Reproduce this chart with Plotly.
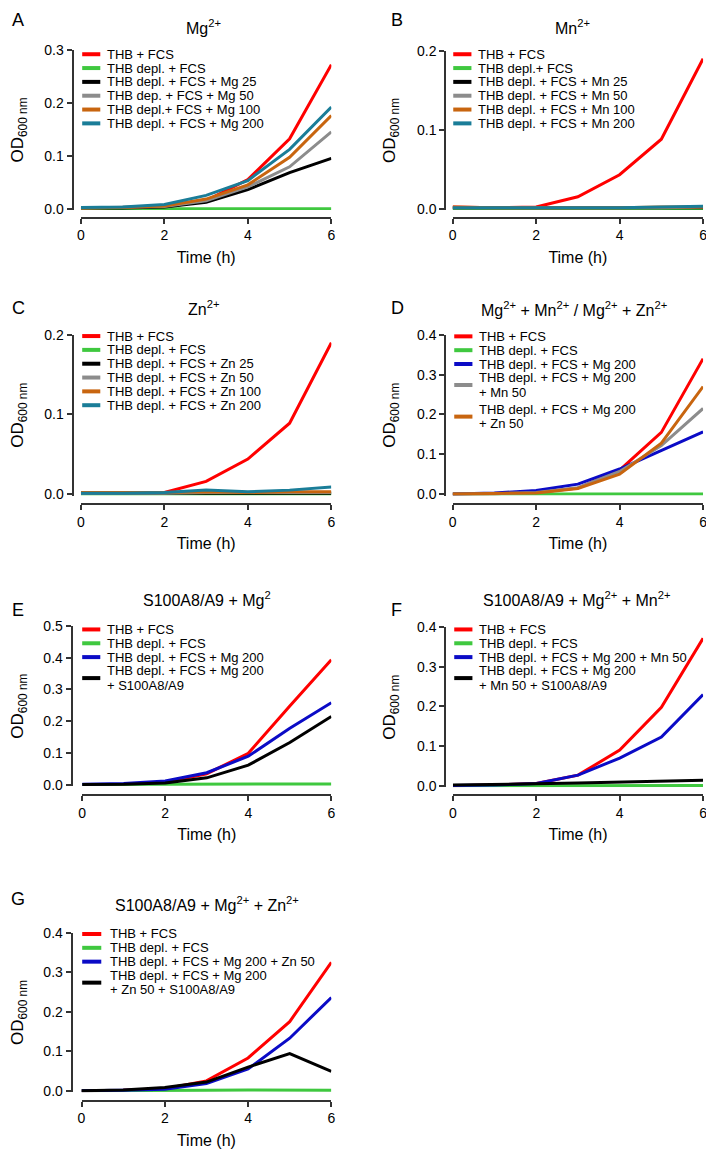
import plotly.graph_objects as go

W, H = 714, 1159
OFF = 8  # page body margin offsets the figure by 8 px
FW, FH = W - OFF, H - OFF
FONT = "Liberation Sans, Arial, Helvetica, sans-serif"

hours = [0, 1, 2, 3, 4, 5, 6]

# ---------------- colours ----------------
RED = "#ff0000"
GREEN = "#3fc83f"
BLACK = "#000000"
GRAY = "#8c8c8c"
ORANGE = "#c8650f"
TEAL = "#1a7d98"
BLUE = "#0b0bc6"

# ---------------- data (OD600) ----------------
# Panel A : Mg2+
a_thb = [0.001, 0.001, 0.003, 0.015, 0.055, 0.132, 0.272]
a_depl = [0.000, 0.000, 0.000, 0.000, 0.000, 0.000, 0.000]
a_mg25 = [0.001, 0.001, 0.003, 0.012, 0.036, 0.068, 0.095]
a_mg50 = [0.001, 0.002, 0.004, 0.015, 0.041, 0.079, 0.145]
a_mg100 = [0.001, 0.002, 0.005, 0.018, 0.045, 0.097, 0.176]
a_mg200 = [0.002, 0.003, 0.008, 0.025, 0.053, 0.112, 0.192]
a_labels = ["THB + FCS", "THB depl. + FCS", "THB depl. + FCS + Mg 25",
            "THB dep. + FCS + Mg 50", "THB depl.+ FCS + Mg 100",
            "THB depl. + FCS + Mg 200"]

# Panel B : Mn2+
b_thb = [0.002, 0.001, 0.002, 0.015, 0.043, 0.088, 0.190]
b_depl = [0.000, 0.000, 0.000, 0.000, 0.000, 0.000, 0.000]
b_mn25 = [0.001, 0.001, 0.001, 0.001, 0.001, 0.001, 0.001]
b_mn50 = [0.001, 0.001, 0.001, 0.001, 0.001, 0.001, 0.002]
b_mn100 = [0.002, 0.001, 0.001, 0.001, 0.001, 0.002, 0.002]
b_mn200 = [0.001, 0.001, 0.001, 0.001, 0.001, 0.002, 0.003]
b_labels = ["THB + FCS", "THB depl.+ FCS", "THB depl. + FCS + Mn 25",
            "THB depl. + FCS + Mn 50", "THB depl. + FCS + Mn 100",
            "THB depl. + FCS + Mn 200"]

# Panel C : Zn2+
c_thb = [0.001, 0.001, 0.002, 0.016, 0.044, 0.089, 0.190]
c_depl = [0.000, 0.000, 0.000, 0.000, 0.000, 0.000, 0.000]
c_zn25 = [0.001, 0.001, 0.001, 0.001, 0.001, 0.001, 0.001]
c_zn50 = [0.001, 0.001, 0.001, 0.002, 0.002, 0.002, 0.002]
c_zn100 = [0.002, 0.002, 0.002, 0.003, 0.002, 0.003, 0.003]
c_zn200 = [0.001, 0.001, 0.002, 0.005, 0.003, 0.005, 0.009]
c_labels = ["THB + FCS", "THB depl. + FCS", "THB depl. + FCS + Zn 25",
            "THB depl. + FCS + Zn 50", "THB depl. + FCS + Zn 100",
            "THB depl. + FCS + Zn 200"]

# Panel D : Mg2+ + Mn2+ / Mg2+ + Zn2+
d_thb = [0.000, 0.001, 0.004, 0.015, 0.060, 0.155, 0.340]
d_depl = [0.000, 0.000, 0.000, 0.000, 0.000, 0.000, 0.000]
d_mg200 = [0.000, 0.003, 0.009, 0.025, 0.063, 0.109, 0.156]
d_mg200_mn50 = [0.000, 0.001, 0.004, 0.016, 0.057, 0.122, 0.215]
d_mg200_zn50 = [0.000, 0.001, 0.003, 0.014, 0.050, 0.128, 0.270]
d_labels = ["THB + FCS", "THB depl. + FCS", "THB depl. + FCS + Mg 200",
            "THB depl. + FCS + Mg 200<br>+ Mn 50",
            "THB depl. + FCS + Mg 200<br>+ Zn 50"]

# Panel E : S100A8/A9 + Mg2+
e_thb = [0.001, 0.002, 0.008, 0.035, 0.099, 0.248, 0.393]
e_depl = [0.001, 0.001, 0.001, 0.001, 0.001, 0.002, 0.003]
e_mg200 = [0.002, 0.004, 0.012, 0.038, 0.090, 0.178, 0.258]
e_mg200_s100 = [0.001, 0.002, 0.006, 0.022, 0.062, 0.133, 0.215]
e_labels = ["THB + FCS", "THB depl. + FCS", "THB depl. + FCS + Mg 200",
            "THB depl. + FCS + Mg 200<br>+ S100A8/A9"]

# Panel F : S100A8/A9 + Mg2+ + Mn2+
f_thb = [0.000, 0.002, 0.006, 0.027, 0.090, 0.198, 0.372]
f_depl = [0.000, 0.000, 0.000, 0.000, 0.000, 0.001, 0.001]
f_mg_mn = [0.001, 0.002, 0.006, 0.027, 0.070, 0.123, 0.230]
f_mg_mn_s100 = [0.002, 0.003, 0.005, 0.007, 0.009, 0.012, 0.014]
f_labels = ["THB + FCS", "THB depl. + FCS", "THB depl. + FCS + Mg 200 + Mn 50",
            "THB depl. + FCS + Mg 200<br>+ Mn 50 + S100A8/A9"]

# Panel G : S100A8/A9 + Mg2+ + Zn2+
g_thb = [0.000, 0.001, 0.005, 0.025, 0.083, 0.175, 0.325]
g_depl = [0.000, 0.000, 0.001, 0.001, 0.002, 0.001, 0.001]
g_mg_zn = [0.000, 0.001, 0.004, 0.018, 0.055, 0.133, 0.236]
g_mg_zn_s100 = [0.000, 0.002, 0.008, 0.022, 0.060, 0.094, 0.049]
g_labels = ["THB + FCS", "THB depl. + FCS", "THB depl. + FCS + Mg 200 + Zn 50",
            "THB depl. + FCS + Mg 200<br>+ Zn 50 + S100A8/A9"]

six_colors = [RED, GREEN, BLACK, GRAY, ORANGE, TEAL]

panels = [
    dict(letter="A", title="Mg<sup>2+</sup>", ymax=0.3,
         labels=a_labels, colors=six_colors,
         values=[a_thb, a_depl, a_mg25, a_mg50, a_mg100, a_mg200]),
    dict(letter="B", title="Mn<sup>2+</sup>", ymax=0.2,
         labels=b_labels, colors=six_colors,
         values=[b_thb, b_depl, b_mn25, b_mn50, b_mn100, b_mn200]),
    dict(letter="C", title="Zn<sup>2+</sup>", ymax=0.2,
         labels=c_labels, colors=six_colors,
         values=[c_thb, c_depl, c_zn25, c_zn50, c_zn100, c_zn200]),
    dict(letter="D", title="Mg<sup>2+</sup> + Mn<sup>2+</sup> / Mg<sup>2+</sup> + Zn<sup>2+</sup>",
         ymax=0.4, labels=d_labels, colors=[RED, GREEN, BLUE, GRAY, ORANGE],
         values=[d_thb, d_depl, d_mg200, d_mg200_mn50, d_mg200_zn50]),
    dict(letter="E", title="S100A8/A9 + Mg<sup>2</sup>", ymax=0.5,
         labels=e_labels, colors=[RED, GREEN, BLUE, BLACK],
         values=[e_thb, e_depl, e_mg200, e_mg200_s100]),
    dict(letter="F", title="S100A8/A9 + Mg<sup>2+</sup> + Mn<sup>2+</sup>", ymax=0.4,
         labels=f_labels, colors=[RED, GREEN, BLUE, BLACK],
         values=[f_thb, f_depl, f_mg_mn, f_mg_mn_s100]),
    dict(letter="G", title="S100A8/A9 + Mg<sup>2+</sup> + Zn<sup>2+</sup>", ymax=0.4,
         labels=g_labels, colors=[RED, GREEN, BLUE, BLACK],
         values=[g_thb, g_depl, g_mg_zn, g_mg_zn_s100]),
]

# ---------------- geometry (page pixels) ----------------
# x0/x6: pixel of time 0/6; yx: y-axis line x; yb/yt: pixel of y=0 / y=max;
# xy: x-axis line y; title, letter: centres; leg: (key x0, key x1, text x, first row y)
geom = [
    dict(x0=77.7, x6=331, yx=69.3, yb=203, yt=42.3, xy=212,
         title=(202, 19), letter=(14.5, 12), leg=(79, 97.3, 101.7, 46.7)),
    dict(x0=453.7, x6=707, yx=446.3, yb=203, yt=43.3, xy=212,
         title=(575, 19), letter=(397, 12), leg=(454.3, 472.7, 477.7, 46.7)),
    dict(x0=77.7, x6=331, yx=69.3, yb=492, yt=330.7, xy=502.3,
         title=(202, 304), letter=(14.5, 304), leg=(79, 97.3, 101.7, 332)),
    dict(x0=453.7, x6=707, yx=446.3, yb=492, yt=330.7, xy=502.3,
         title=(576, 305), letter=(398, 304), leg=(455.3, 473.7, 478.7, 332.3)),
    dict(x0=79, x6=331, yx=68.3, yb=786.3, yt=625.3, xy=796.7,
         title=(205, 598), letter=(14.5, 609.5), leg=(79, 97.3, 101.7, 629)),
    dict(x0=454, x6=707, yx=446.3, yb=787.3, yt=626.7, xy=797,
         title=(579, 598), letter=(397, 609.5), leg=(455.3, 473.7, 478.7, 629)),
    dict(x0=78.3, x6=331, yx=68.3, yb=1096, yt=936, xy=1106,
         title=(205, 907), letter=(14.5, 902), leg=(79, 98.3, 105, 937.3)),
]

AXC = "#333333"
PAD = 1.5


def px(x):
    return (x - OFF) / FW


def py(y):
    return 1 - (y - OFF) / FH


fig = go.Figure()
annotations = []
shapes = []
layout = {}

for i, (p, g) in enumerate(zip(panels, geom), start=1):
    xa = "x" if i == 1 else f"x{i}"
    ya = "y" if i == 1 else f"y{i}"
    for lbl, col, vals in zip(p["labels"], p["colors"], p["values"]):
        fig.add_trace(go.Scatter(
            x=hours, y=vals, mode="lines", name=lbl.replace("<br>", " "),
            line=dict(color=col, width=3), xaxis=xa, yaxis=ya,
            showlegend=False, hoverinfo="x+y+name"))

    ymax = p["ymax"]
    ypad = ymax * PAD / (g["yb"] - g["yt"])
    nt = int(round(ymax / 0.1))
    yt_vals = [round(k * 0.1, 1) for k in range(nt + 1)]

    axis_common = dict(showline=True, linecolor=AXC, linewidth=2, ticks="outside",
                       ticklen=5, tickwidth=2, tickcolor=AXC, showgrid=False,
                       zeroline=False, tickfont=dict(size=14, color="black", family=FONT),
                       anchor="free", fixedrange=True)
    layout["xaxis" if i == 1 else f"xaxis{i}"] = dict(
        axis_common, domain=[px(g["x0"]), px(g["x6"])], range=[0, 6],
        tickvals=[0, 2, 4, 6], position=py(g["xy"]),
        title=dict(text="Time (h)", font=dict(size=16, color="black", family=FONT), standoff=8))
    layout["yaxis" if i == 1 else f"yaxis{i}"] = dict(
        axis_common, domain=[py(g["yb"] + PAD), py(g["yt"])], range=[-ypad, ymax],
        tickvals=yt_vals, tickformat=".1f", position=px(g["yx"]),
        title=dict(text="OD<sub>600 nm</sub>", font=dict(size=17, color="black", family=FONT),
                   standoff=16))

    # panel title & letter
    annotations.append(dict(text=p["title"], x=px(g["title"][0]), y=py(g["title"][1]),
                            xref="paper", yref="paper", showarrow=False,
                            xanchor="center", yanchor="middle",
                            font=dict(size=16, color="black", family=FONT)))
    annotations.append(dict(text=p["letter"], x=px(g["letter"][0]), y=py(g["letter"][1]),
                            xref="paper", yref="paper", showarrow=False,
                            xanchor="center", yanchor="middle",
                            font=dict(size=18, color="black", family=FONT)))

    # legend (keys + text)
    kx0, kx1, tx, ry = g["leg"]
    for lbl, col in zip(p["labels"], p["colors"]):
        lines = lbl.split("<br>")
        ys = [ry + k * 14.5 for k in range(len(lines))]
        for t, yy in zip(lines, ys):
            annotations.append(dict(text=t, x=px(tx), y=py(yy), xref="paper", yref="paper",
                                    showarrow=False, xanchor="left", yanchor="middle",
                                    font=dict(size=13, color="black", family=FONT)))
        ky = sum(ys) / len(ys)
        shapes.append(dict(type="line", xref="paper", yref="paper",
                           x0=px(kx0), x1=px(kx1), y0=py(ky), y1=py(ky),
                           line=dict(color=col, width=4)))
        ry = ys[-1] + (14.0 if len(lines) == 1 else 17.5)

fig.update_layout(
    width=FW, height=FH, autosize=False,
    margin=dict(l=0, r=0, t=0, b=0),
    paper_bgcolor="white", plot_bgcolor="white",
    font=dict(family=FONT, color="black"),
    showlegend=False,
    annotations=annotations, shapes=shapes,
    **layout)

fig.write_html("out.html")
